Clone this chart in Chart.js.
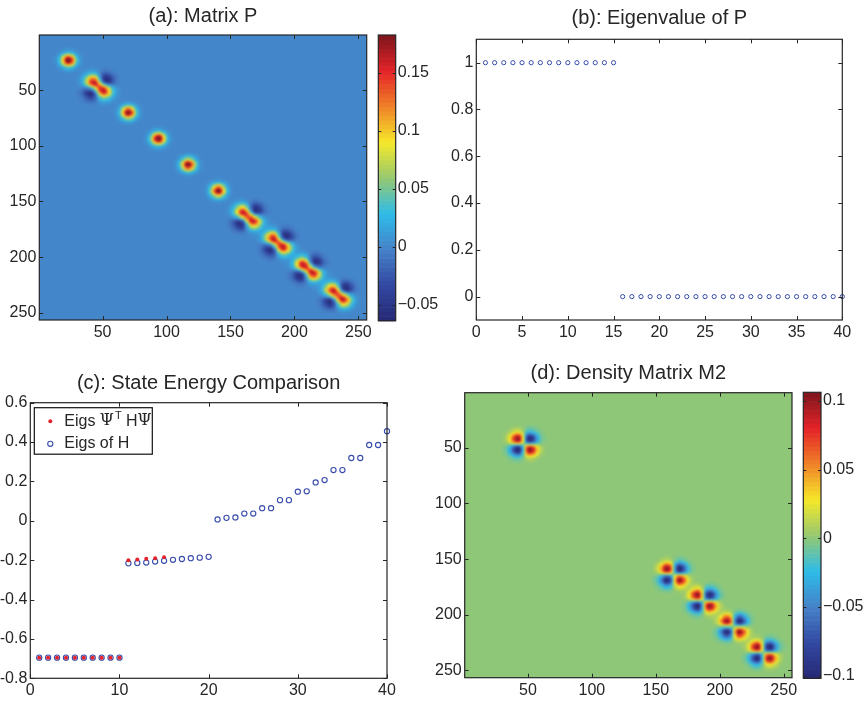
<!DOCTYPE html>
<html>
<head>
<meta charset="utf-8">
<script src="https://cdn.jsdelivr.net/npm/chart.js@4.4.1/dist/chart.umd.min.js"></script>
<style>
html, body { margin: 0; padding: 0; background: #fff; }
#wrap { position: relative; width: 866px; height: 701px; overflow: hidden; }
#wrap canvas { position: absolute; left: 0; top: 0; }
</style>
</head>
<body>
<div id="wrap">
  <canvas id="cA" width="866" height="701"></canvas>
  <canvas id="cAbar" width="866" height="701"></canvas>
  <canvas id="cB" width="866" height="701"></canvas>
  <canvas id="cC" width="866" height="701"></canvas>
  <canvas id="cD" width="866" height="701"></canvas>
  <canvas id="cDbar" width="866" height="701"></canvas>
</div>
<script>
// ---- data ----
var matrixTicks = [50, 100, 150, 200, 250];

// (a) matrix P : orbital blobs along the diagonal
var pCenters = [23.3, 46.8, 70.2, 93.6, 117, 140.4, 163.8, 187.2, 210.6, 234];
var pShape   = ['s', 'p', 's', 's', 's', 's', 'p', 'p', 'p', 'p'];
var pPeak    = [0.19, 0.14, 0.19, 0.19, 0.19, 0.19, 0.14, 0.14, 0.14, 0.14];
var pCross   = [0, 0.27, 0, 0, 0, 0, 0.27, 0.27, 0.27, 0.27];
var pRange   = [-0.0636, 0.1826];
var pBarTicks = [-0.05, 0, 0.05, 0.1, 0.15];

// (b) eigenvalues of P
var eigIndex = [1,2,3,4,5,6,7,8,9,10,11,12,13,14,15,16,17,18,19,20,
                21,22,23,24,25,26,27,28,29,30,31,32,33,34,35,36,37,38,39,40];
var eigP = [1,1,1,1,1,1,1,1,1,1,1,1,1,1,1,
            0,0,0,0,0,0,0,0,0,0,0,0,0,0,0,0,0,0,0,0,0,0,0,0,0];
var eigXTicks = [0, 5, 10, 15, 20, 25, 30, 35, 40];
var eigYTicks = [0, 0.2, 0.4, 0.6, 0.8, 1];

// (c) state energies
var stateIndex = [1,2,3,4,5,6,7,8,9,10,11,12,13,14,15,16,17,18,19,20,
                  21,22,23,24,25,26,27,28,29,30,31,32,33,34,35,36,37,38,39,40];
var eigsPsi = [-0.695,-0.695,-0.695,-0.695,-0.695,-0.695,-0.695,-0.695,-0.695,-0.695,
               -0.200,-0.197,-0.193,-0.190,-0.185];
var eigsH = [-0.695,-0.695,-0.695,-0.695,-0.695,-0.695,-0.695,-0.695,-0.695,-0.695,
             -0.216,-0.214,-0.212,-0.207,-0.203,-0.198,-0.194,-0.190,-0.187,-0.183,
             0.007,0.015,0.017,0.037,0.037,0.064,0.064,0.105,0.105,0.148,
             0.150,0.195,0.207,0.258,0.258,0.319,0.319,0.385,0.385,0.455];
var stateXTicks = [0, 10, 20, 30, 40];
var stateYTicks = [-0.8, -0.6, -0.4, -0.2, 0, 0.2, 0.4, 0.6];

// (d) density matrix M2 : quadrupole blobs
var m2Centers = [46.8, 163.8, 187.2, 210.6, 234];
var m2Peak    = [0.105, 0.105, 0.105, 0.105, 0.105];
var m2Range   = [-0.1019, 0.1063];
var m2BarTicks = [-0.1, -0.05, 0, 0.05, 0.1];

// ---- style ----
var FONT = '"Liberation Sans", Arial, Helvetica, sans-serif';
var INK = '#262626';
var BLUE = 'rgb(55,75,170)';
var RED = 'rgb(228,35,45)';
var TICK_PX = 16;
var jetStops = [
  [0.000, 38, 40, 115], [0.125, 50, 72, 162], [0.250, 70, 130, 200],
  [0.375, 45, 188, 232], [0.500, 150, 200, 112], [0.625, 245, 232, 40],
  [0.750, 240, 130, 40], [0.875, 228, 35, 40], [1.000, 125, 22, 28]
];

function jet(t) {
  for (var i = 1; i < jetStops.length; i++) {
    if (t <= jetStops[i][0]) {
      var a = jetStops[i - 1], b = jetStops[i];
      var f = (t - a[0]) / (b[0] - a[0]);
      return [a[1] + f * (b[1] - a[1]), a[2] + f * (b[2] - a[2]), a[3] + f * (b[3] - a[3])];
    }
  }
  return jetStops[jetStops.length - 1].slice(1);
}
var LUT = [];
for (var k = 0; k < 64; k++) LUT.push(jet((k + 0.5) / 64));
function colourOf(v, range) {
  var t = (v - range[0]) / (range[1] - range[0]);
  var idx = Math.max(0, Math.min(63, Math.floor(t * 64)));
  return LUT[idx];
}
function css(c) { return 'rgb(' + Math.round(c[0]) + ',' + Math.round(c[1]) + ',' + Math.round(c[2]) + ')'; }

function matrixP(r, c) {
  var v = 0, ss = 3.8, sp = 5.2;
  for (var k = 0; k < pCenters.length; k++) {
    var u = c - pCenters[k], w = r - pCenters[k];
    if (Math.abs(u) > 35 || Math.abs(w) > 35) continue;
    if (pShape[k] === 's') v += pPeak[k] * Math.exp(-(u * u + w * w) / (2 * ss * ss));
    else v += Math.exp(-(u * u + w * w) / (2 * sp * sp)) * (pPeak[k] + pCross[k] * u * w / (sp * sp));
  }
  return v;
}
function matrixM2(r, c) {
  var v = 0, s = 4.9;
  for (var k = 0; k < m2Centers.length; k++) {
    var u = c - m2Centers[k], w = r - m2Centers[k];
    if (Math.abs(u) > 35 || Math.abs(w) > 35) continue;
    v += m2Peak[k] * Math.E * (u * w / (s * s)) * Math.exp(-(u * u + w * w) / (2 * s * s));
  }
  return v;
}

function fmt(v) { return String(Math.round(v * 1000) / 1000); }
function fmtMinus(v) { return fmt(v).replace('-', '\u2212'); }

// ---- plugins ----
var heatPlugin = {
  id: 'heat',
  beforeDatasetsDraw: function(chart, args, o) {
    if (!o.value) return;
    var ctx = chart.ctx, a = chart.chartArea, x = chart.scales.x, y = chart.scales.y;
    var x0 = Math.round(a.left), y0 = Math.round(a.top);
    var w = Math.round(a.right) - x0, h = Math.round(a.bottom) - y0;
    var off = document.createElement('canvas');
    off.width = w; off.height = h;
    var octx = off.getContext('2d');
    var img = octx.createImageData(w, h);
    for (var py = 0; py < h; py++) {
      var row = Math.round(y.getValueForPixel(y0 + py + 0.5));
      for (var px = 0; px < w; px++) {
        var col = Math.round(x.getValueForPixel(x0 + px + 0.5));
        var c = colourOf(o.value(row, col), o.range);
        var i = (py * w + px) * 4;
        img.data[i] = c[0]; img.data[i + 1] = c[1]; img.data[i + 2] = c[2]; img.data[i + 3] = 255;
      }
    }
    octx.putImageData(img, 0, 0);
    ctx.save();
    ctx.beginPath();
    ctx.rect(a.left, a.top, a.right - a.left, a.bottom - a.top);
    ctx.clip();
    ctx.fillStyle = css(colourOf(0, o.range));
    ctx.fillRect(a.left, a.top, a.right - a.left, a.bottom - a.top);
    ctx.filter = 'blur(0.8px)';
    ctx.drawImage(off, x0, y0);
    ctx.restore();
  }
};

var barPlugin = {
  id: 'cbar',
  beforeDatasetsDraw: function(chart, args, o) {
    if (!o.range) return;
    var ctx = chart.ctx, a = chart.chartArea, y = chart.scales.y;
    for (var k = 0; k < 64; k++) {
      var lo = o.range[0] + (o.range[1] - o.range[0]) * k / 64;
      var hi = o.range[0] + (o.range[1] - o.range[0]) * (k + 1) / 64;
      ctx.fillStyle = css(LUT[k]);
      var p1 = y.getPixelForValue(hi), p2 = y.getPixelForValue(lo);
      ctx.fillRect(a.left, p1, a.right - a.left, p2 - p1 + 0.6);
    }
  }
};

var framePlugin = {
  id: 'frame',
  afterDatasetsDraw: function(chart, args, o) {
    var ctx = chart.ctx, a = chart.chartArea, sx = chart.scales.x, sy = chart.scales.y;
    var len = o.tick || 4;
    ctx.save();
    ctx.strokeStyle = INK;
    ctx.lineWidth = 1;
    ctx.beginPath();
    if (sx.options.display) {
      sx.ticks.forEach(function(t) {
        var p = Math.round(sx.getPixelForValue(t.value)) + 0.5;
        ctx.moveTo(p, a.bottom); ctx.lineTo(p, a.bottom - len);
        ctx.moveTo(p, a.top); ctx.lineTo(p, a.top + len);
      });
    }
    sy.ticks.forEach(function(t) {
      var p = Math.round(sy.getPixelForValue(t.value)) + 0.5;
      ctx.moveTo(a.left, p); ctx.lineTo(a.left + len, p);
      ctx.moveTo(a.right, p); ctx.lineTo(a.right - len, p);
    });
    ctx.stroke();
    ctx.lineWidth = 1.2;
    ctx.strokeRect(a.left, a.top, a.right - a.left, a.bottom - a.top);
    ctx.restore();
  }
};

var titlePlugin = {
  id: 'ttl',
  afterDraw: function(chart, args, o) {
    if (!o.text) return;
    var ctx = chart.ctx, a = chart.chartArea;
    ctx.save();
    ctx.font = '20px ' + FONT;
    ctx.fillStyle = INK;
    ctx.textAlign = 'center';
    ctx.textBaseline = 'middle';
    ctx.fillText(o.text, (a.left + a.right) / 2, o.y);
    ctx.restore();
  }
};

var keyPlugin = {
  id: 'key',
  afterDraw: function(chart, args, o) {
    if (!o.show) return;
    var ctx = chart.ctx, a = chart.chartArea;
    var bx = a.left + 4, by = a.top + 5, bw = 118, bh = 46.5;
    ctx.save();
    ctx.fillStyle = '#fff';
    ctx.fillRect(bx, by, bw, bh);
    ctx.strokeStyle = '#111';
    ctx.lineWidth = 1.2;
    ctx.strokeRect(bx, by, bw, bh);
    chart.data.datasets.forEach(function(ds, i) {
      var cy = by + 13.5 + i * 22.6, mx = bx + 16;
      ctx.beginPath();
      ctx.arc(mx, cy, ds.pointRadius, 0, Math.PI * 2);
      if (ds.pointBorderWidth > 0) {
        ctx.strokeStyle = ds.pointBorderColor; ctx.lineWidth = ds.pointBorderWidth; ctx.stroke();
      } else {
        ctx.fillStyle = ds.pointBackgroundColor; ctx.fill();
      }
      // label with ^ for superscript, Greek psi set in serif
      var parts = ds.label.split('^'), x = bx + 30;
      ctx.fillStyle = INK;
      ctx.textBaseline = 'middle';
      parts.forEach(function(part, j) {
        var raised = j > 0;
        var txt = raised ? part.charAt(0) : part;
        var rest = raised ? part.slice(1) : '';
        var draw = function(s, size, dy) {
          for (var n = 0; n < s.length; n++) {
            var ch = s.charAt(n);
            ctx.font = size + 'px ' + (ch === '\u03A8' ? '"DejaVu Serif", serif' : FONT);
            ctx.fillText(ch, x, cy + dy);
            x += ctx.measureText(ch).width;
          }
        };
        if (raised) { x += 1; draw(txt, 11, -5); draw(rest, 16, 0); }
        else draw(txt, 16, 0);
      });
    });
    ctx.restore();
  }
};

Chart.defaults.font.family = FONT;
Chart.defaults.color = INK;

function axis(ticks, min, max, size, extra) {
  var cfg = {
    type: 'linear', min: min, max: max,
    grid: { display: false, drawTicks: false },
    border: { display: false },
    ticks: { font: { family: FONT, size: TICK_PX }, color: INK, padding: 3, callback: function(v) { return fmt(v); } },
    afterBuildTicks: function(s) { s.ticks = ticks.map(function(v) { return { value: v }; }); }
  };
  if (size.w !== undefined) cfg.afterFit = function(s) { s.width = size.w; };
  if (size.h !== undefined) cfg.afterFit = function(s) { s.height = size.h; };
  for (var key in extra) cfg[key] = extra[key];
  return cfg;
}

function baseOptions(pad, scales, plugins) {
  var p = { legend: { display: false }, tooltip: { enabled: false } };
  for (var key in plugins) p[key] = plugins[key];
  return {
    responsive: false, animation: false, events: [],
    layout: { padding: pad },
    scales: scales,
    plugins: p
  };
}
var allPlugins = [heatPlugin, barPlugin, framePlugin, titlePlugin, keyPlugin];
var barTicks = { font: { family: FONT, size: TICK_PX }, color: INK, padding: 2, callback: function(v) { return fmtMinus(v); } };

// (a) Matrix P
new Chart(document.getElementById('cA'), {
  type: 'scatter',
  data: { datasets: [] },
  options: baseOptions({ left: 3.3, top: 35, right: 499.3, bottom: 361 }, {
    x: axis(matrixTicks, 0.5, 256.5, { h: 20 }, {}),
    y: axis(matrixTicks, 0.5, 256.5, { w: 36 }, { reverse: true })
  }, { heat: { value: matrixP, range: pRange }, frame: { tick: 4 }, ttl: { text: '(a): Matrix P', y: 16 } }),
  plugins: allPlugins
});

// (a) colour bar
new Chart(document.getElementById('cAbar'), {
  type: 'scatter',
  data: { datasets: [] },
  options: baseOptions({ left: 378.3, top: 35, right: 410.3, bottom: 380.3 }, {
    x: { display: false, min: 0, max: 1 },
    y: axis(pBarTicks, pRange[0], pRange[1], { w: 60 }, { position: 'right', ticks: barTicks })
  }, { cbar: { range: pRange }, frame: { tick: 3 } }),
  plugins: allPlugins
});

// (b) Eigenvalue of P
new Chart(document.getElementById('cB'), {
  type: 'scatter',
  data: {
    datasets: [{
      label: 'eig(P)',
      data: eigIndex.map(function(x, i) { return { x: x, y: eigP[i] }; }),
      pointRadius: 2.1, pointBorderWidth: 1, pointBorderColor: BLUE, pointBackgroundColor: 'rgba(0,0,0,0)',
      showLine: false, clip: false
    }]
  },
  options: baseOptions({ left: 436.3, top: 39.3, right: 23.7, bottom: 361 }, {
    x: axis(eigXTicks, 0, 40, { h: 20 }, {}),
    y: axis(eigYTicks, -0.1, 1.1, { w: 40 }, {})
  }, { frame: { tick: 4 }, ttl: { text: '(b): Eigenvalue of P', y: 18 } }),
  plugins: allPlugins
});

// (c) State Energy Comparison
new Chart(document.getElementById('cC'), {
  type: 'scatter',
  data: {
    datasets: [{
      label: 'Eigs \u03A8^T H\u03A8',
      data: eigsPsi.map(function(v, i) { return { x: stateIndex[i], y: v }; }),
      pointRadius: 2, pointBorderWidth: 0, pointBackgroundColor: RED, pointBorderColor: RED,
      showLine: false, clip: false
    }, {
      label: 'Eigs of H',
      data: eigsH.map(function(v, i) { return { x: stateIndex[i], y: v }; }),
      pointRadius: 2.6, pointBorderWidth: 1.1, pointBorderColor: BLUE, pointBackgroundColor: 'rgba(0,0,0,0)',
      showLine: false, clip: false
    }]
  },
  options: baseOptions({ left: 0.3, top: 402.7, right: 479, bottom: 2.7 }, {
    x: axis(stateXTicks, 0, 40, { h: 20 }, {}),
    y: axis(stateYTicks, -0.8, 0.6, { w: 30 }, {})
  }, { frame: { tick: 4 }, ttl: { text: '(c): State Energy Comparison', y: 383 }, key: { show: true } }),
  plugins: allPlugins
});

// (d) Density Matrix M2
new Chart(document.getElementById('cD'), {
  type: 'scatter',
  data: { datasets: [] },
  options: baseOptions({ left: 428.7, top: 392.7, right: 74, bottom: 3.3 }, {
    x: axis(matrixTicks, 0.5, 256.5, { h: 20 }, {}),
    y: axis(matrixTicks, 0.5, 256.5, { w: 36 }, { reverse: true })
  }, { heat: { value: matrixM2, range: m2Range }, frame: { tick: 4 }, ttl: { text: '(d): Density Matrix M2', y: 373 } }),
  plugins: allPlugins
});

// (d) colour bar
new Chart(document.getElementById('cDbar'), {
  type: 'scatter',
  data: { datasets: [] },
  options: baseOptions({ left: 803.3, top: 392.3, right: 0, bottom: 22.7 }, {
    x: { display: false, min: 0, max: 1 },
    y: axis(m2BarTicks, m2Range[0], m2Range[1], { w: 45 }, { position: 'right', ticks: barTicks })
  }, { cbar: { range: m2Range }, frame: { tick: 3 } }),
  plugins: allPlugins
});
</script>
</body>
</html>
